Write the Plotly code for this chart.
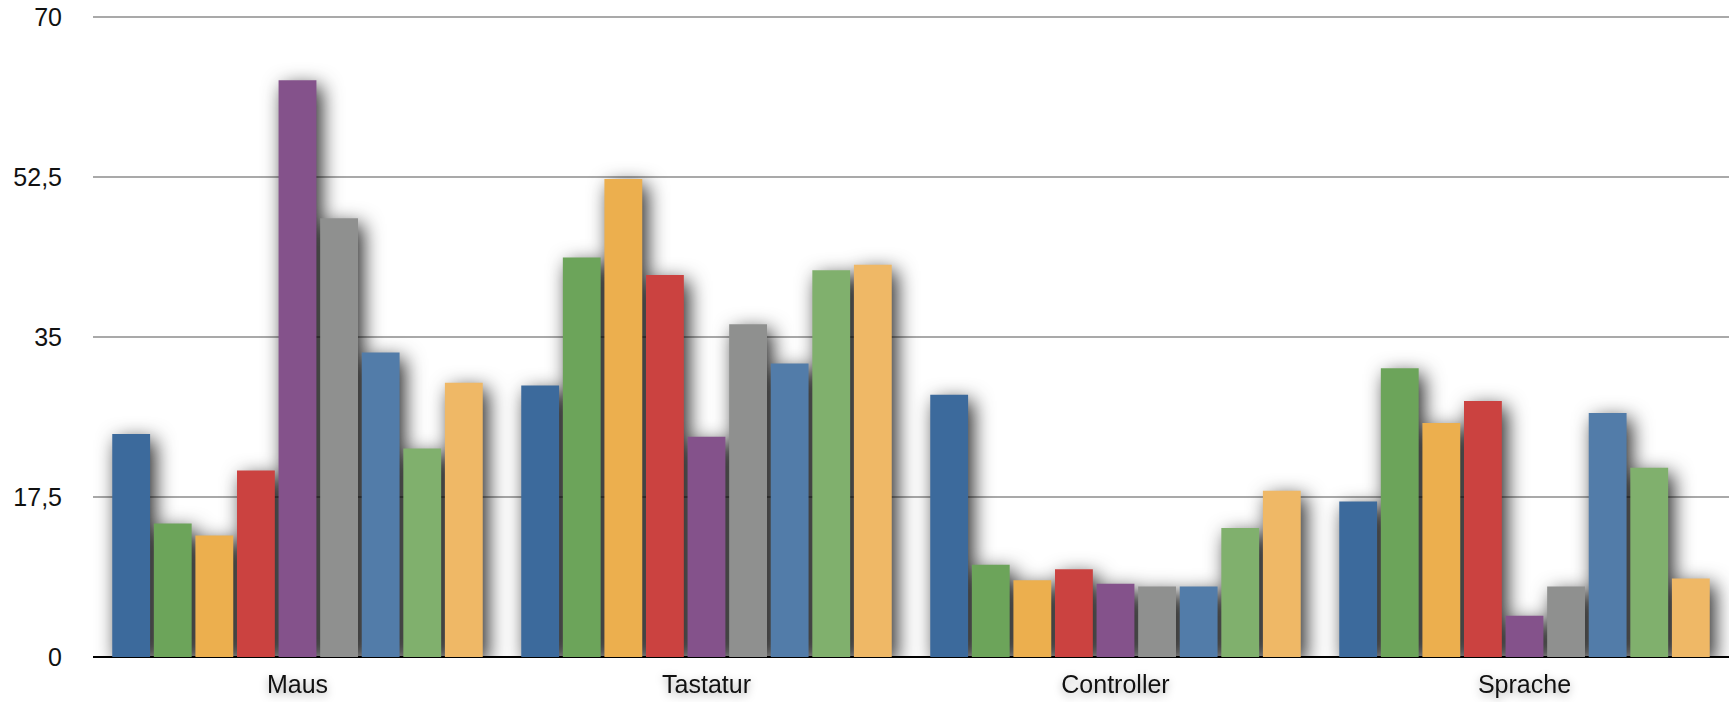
import plotly.graph_objects as go

# Eingabegeräte (Kategorien) und neun Datenreihen
categories = ["Maus", "Tastatur", "Controller", "Sprache"]

serie_1 = [24.4, 29.7, 28.7, 17.0]
serie_2 = [14.6, 43.7, 10.1, 31.6]
serie_3 = [13.3, 52.3, 8.4, 25.6]
serie_4 = [20.4, 41.8, 9.6, 28.0]
serie_5 = [63.1, 24.1, 8.0, 4.5]
serie_6 = [48.0, 36.4, 7.7, 7.7]
serie_7 = [33.3, 32.1, 7.7, 26.7]
serie_8 = [22.8, 42.3, 14.1, 20.7]
serie_9 = [30.0, 42.9, 18.2, 8.6]

series = [serie_1, serie_2, serie_3, serie_4, serie_5,
          serie_6, serie_7, serie_8, serie_9]
series_names = [f"Serie {i}" for i in range(1, 10)]

colors = ["#3c6a9c", "#6ca45a", "#ecaf4e", "#cb4240", "#84528b",
          "#8f908f", "#527ca9", "#80b06d", "#efb866"]

tick_values = [0, 17.5, 35, 52.5, 70]
tick_labels = ["0", "17,5", "35", "52,5", "70"]

fig = go.Figure()
for name, values, color in zip(series_names, series, colors):
    fig.add_trace(go.Bar(
        x=categories, y=values, name=name,
        marker=dict(color=color, line=dict(width=0)),
    ))

fig.update_layout(
    width=1729, height=702,
    barmode="group", bargap=0.085, bargroupgap=0.09,
    showlegend=False,
    paper_bgcolor="white", plot_bgcolor="white",
    margin=dict(l=93, r=0, t=8, b=45),
    font=dict(family="Liberation Sans, Arial, sans-serif", size=25, color="#111"),
    xaxis=dict(
        showgrid=False, showline=False, ticks="",
        tickfont=dict(size=25), ticklabelstandoff=10,
    ),
    yaxis=dict(
        range=[0, 71], tickvals=tick_values, ticktext=tick_labels,
        showgrid=True, gridcolor="#a9a9a9", gridwidth=2,
        zeroline=True, zerolinecolor="#000", zerolinewidth=2,
        showline=False, ticks="", ticklabelstandoff=30,
        tickfont=dict(size=25),
    ),
)

# Schlagschatten für Balken und Kategoriebeschriftungen
shadow_css = """
body { margin: 0; }
.cartesianlayer .plot { clip-path: none !important; }
.barlayer { filter: drop-shadow(5px 6px 10px rgba(0,0,0,0.85)); }
.xtick text { filter: drop-shadow(0px 3px 4px rgba(0,0,0,0.35)); }
"""
post_script = (
    "var s=document.createElement('style');"
    "s.textContent=" + repr(shadow_css).replace("\\n", " ") + ";"
    "document.head.appendChild(s);"
)

fig.write_html("out.html", post_script=post_script)
